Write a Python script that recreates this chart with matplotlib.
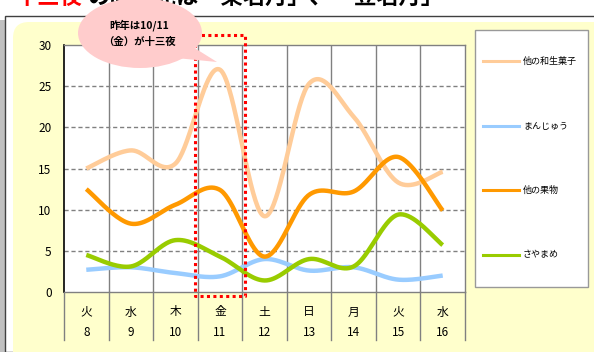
import numpy as np
import matplotlib
matplotlib.use("Agg")
import matplotlib.pyplot as plt
from matplotlib.patches import Ellipse, Polygon, Rectangle, FancyBboxPatch
from matplotlib.lines import Line2D
import matplotlib.transforms as mtransforms

plt.rcParams['font.family'] = ['Noto Sans CJK JP', 'DejaVu Sans']

# ---------------- data ----------------
weekdays = ["火", "水", "木", "金", "土", "日", "月", "火", "水"]
days = ["8", "9", "10", "11", "12", "13", "14", "15", "16"]
series_names = ["他の和生菓子", "まんじゅう", "他の果物", "さやまめ"]
wagashi = [15.0, 17.2, 15.6, 27.0, 9.2, 25.3, 21.3, 13.3, 14.6]
manju = [2.7, 3.0, 2.3, 1.9, 4.0, 2.6, 3.0, 1.5, 2.0]
fruit = [12.5, 8.3, 10.6, 12.4, 4.3, 11.8, 12.2, 16.4, 9.9]
sayamame = [4.5, 3.1, 6.3, 4.3, 1.4, 4.0, 3.1, 9.4, 5.7]
colors = ["#FFCC99", "#99CCFF", "#FF9900", "#99CC00"]
yticks = [0, 5, 10, 15, 20, 25, 30]
highlight_index = 3
callout_text = "昨年は10/11\n（金）が十三夜"
title_red = "十三夜"
title_black = "のお月見は「栗名月」、「豆名月」"

W, H = 594, 352


def fx(x):
    return x / W


def fy(y):
    return 1 - y / H


def smooth(x, y, n=40):
    pts = np.column_stack([x, y]).astype(float)
    P = np.vstack([pts[0], pts, pts[-1]])
    out = []
    t = np.linspace(0, 1, n)[:, None]
    for i in range(len(pts) - 1):
        p0, p1, p2, p3 = P[i], P[i + 1], P[i + 2], P[i + 3]
        c1 = p1 + (p2 - p0) / 6
        c2 = p2 - (p3 - p1) / 6
        b = (1 - t) ** 3 * p1 + 3 * (1 - t) ** 2 * t * c1 + 3 * (1 - t) * t ** 2 * c2 + t ** 3 * p2
        out.append(b if i == 0 else b[1:])
    out = np.vstack(out)
    return out[:, 0], out[:, 1]


fig = plt.figure(figsize=(W / 100, H / 100), dpi=100)
fig.patch.set_facecolor("white")

# ------------- frame / background -------------
fig.patches.append(Rectangle((0, 0), fx(5), fy(20), transform=fig.transFigure,
                             facecolor="#C0C0C0", edgecolor="none", zorder=-10))
fig.patches.append(Rectangle((fx(5), 0), fx(600) - fx(5), fy(15.5), transform=fig.transFigure,
                             facecolor="white", edgecolor="#404040", lw=1.0, zorder=-9))
fig.patches.append(FancyBboxPatch((13, -30), 640, 352 - 22 + 30,
                                  boxstyle="round,pad=0,rounding_size=16",
                                  transform=None, facecolor="#FFFFCC",
                                  edgecolor="none", zorder=-8))

# ------------- title (cut off at top, as in the reference) -------------
fig.text(fx(16), fy(3.5), title_red, color="#FF0000", fontsize=16, fontweight="bold",
         va="baseline", ha="left")
fig.text(fx(88), fy(3.5), title_black, color="black", fontsize=16, fontweight="bold",
         va="baseline", ha="left")

# ------------- axes -------------
left, right, top, bottom = 64, 465, 45, 292
ax = fig.add_axes([fx(left), fy(bottom), fx(right) - fx(left), (bottom - top) / H])
ax.set_facecolor("white")
n = len(days)
xpos = np.arange(n)
ax.set_xlim(-0.5, n - 0.5)
ax.set_ylim(0, 30)

for yv in yticks[1:-1]:
    ax.axhline(yv, color="#808080", lw=1.0, ls=(0, (3, 2)), zorder=1)
for k in range(1, n):
    ax.axvline(k - 0.5, color="#808080", lw=1.0, zorder=1)

for vals, c in zip([wagashi, manju, fruit, sayamame], colors):
    sx, sy = smooth(xpos, vals)
    ax.plot(sx, sy, color=c, lw=3.2, solid_capstyle="butt", zorder=3)

for s in ["top", "right", "bottom"]:
    ax.spines[s].set_color("#808080")
    ax.spines[s].set_linewidth(1.0)
ax.spines["left"].set_color("#000000")
ax.spines["left"].set_linewidth(1.2)

ax.set_yticks(yticks)
ax.set_yticklabels([str(v) for v in yticks], fontsize=8.5)
ax.tick_params(axis="y", length=0, pad=9)
ax.set_xticks([])

# category strip
trans = mtransforms.blended_transform_factory(ax.transData, ax.transAxes)
h_ax = bottom - top
for k in range(n + 1):
    ax.plot([k - 0.5, k - 0.5], [0, -48 / h_ax], transform=trans, color="#808080",
            lw=1.0, clip_on=False, zorder=1)
for k in range(n):
    ax.text(k, -20 / h_ax, weekdays[k], transform=trans, ha="center", va="center",
            fontsize=8.5)
    ax.text(k, -41 / h_ax, days[k], transform=trans, ha="center", va="center",
            fontsize=8.5)

# red dotted highlight rectangle
rx0, rx1 = highlight_index - 0.56, highlight_index + 0.56
ry0, ry1 = -0.5, 31.2
ax.plot([rx0, rx1, rx1, rx0, rx0], [ry1, ry1, ry0, ry0, ry1], color="#FF0000",
        lw=2.2, ls=(0, (1, 1.1)), clip_on=False, zorder=6)

# ------------- callout bubble -------------
bubble = Ellipse((140, H - 33), 124, 70, transform=None, facecolor="#FFCCCC",
                 edgecolor="none", zorder=10)
fig.patches.append(bubble)
tail = Polygon([(185, H - 42), (217, H - 62), (176, H - 58)], closed=True,
               transform=None, facecolor="#FFCCCC", edgecolor="none", zorder=10)
fig.patches.append(tail)
fig.text(fx(139), fy(33.5), callout_text, ha="center", va="center", fontsize=7.5,
         fontweight="bold", linespacing=1.75, zorder=11)

# ------------- legend -------------
fig.patches.append(Rectangle((fx(475), fy(287)), fx(588) - fx(475), fy(30) - fy(287),
                             transform=fig.transFigure, facecolor="white",
                             edgecolor="#999999", lw=1.0, zorder=2))
leg_y = [61, 126, 190, 255]
for name, c, ly in zip(series_names, colors, leg_y):
    fig.lines.append(Line2D([fx(483), fx(519)], [fy(ly), fy(ly)], transform=fig.transFigure,
                            color=c, lw=2.2, zorder=3))
    fig.text(fx(523), fy(ly), name, ha="left", va="center", fontsize=6.5, zorder=3)

fig.savefig("out.png", dpi=100)
